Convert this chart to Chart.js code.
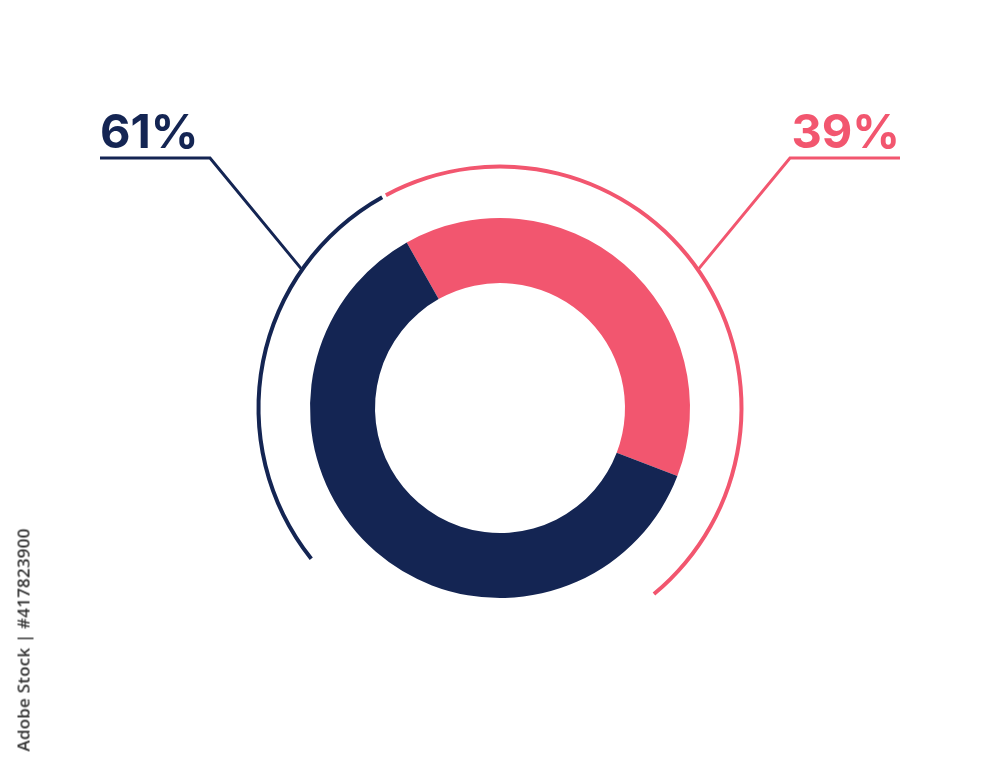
<!DOCTYPE html>
<html>
<head>
<meta charset="utf-8">
<script src="https://cdn.jsdelivr.net/npm/chart.js@4.4.1/dist/chart.umd.min.js"></script>
<style>
  html, body { margin: 0; padding: 0; background: #fff; }
  #wrap { position: relative; width: 1000px; height: 767px; }
  #stock {
    position: absolute; left: 23px; top: 640px;
    transform: translate(-50%, -50%) rotate(-90deg);
    white-space: nowrap; font-family: "Open Sans", sans-serif; font-size: 17px;
    font-weight: 600; color: #333; letter-spacing: 0.2px;
  }
</style>
</head>
<body>
<div id="wrap">
  <canvas id="pie" width="1000" height="767"></canvas>
  <div id="stock">Adobe Stock | #417823900</div>
</div>
<script>
// donut values (pink slice first, it starts at the rotation)
const sliceLabels = ['39%', '61%'];
const sliceValues = [39, 61];
const sliceColors = ['#F2566F', '#142553'];

// thin outer arcs, in degrees: pink arc, gap, navy arc, gap
const arcSpans = [168.6, 91, 99.4, 1];
const arcColors = ['#F2566F', 'rgba(0,0,0,0)', '#142553', 'rgba(0,0,0,0)'];

// leader label plugin
const leaderLabels = {
    id: 'leaderLabels',
    afterDatasetsDraw(chart) {
        const donut = chart.getDatasetMeta(2).data[0];
        const ring = chart.getDatasetMeta(0).data[0];
        const cx = donut.x, cy = donut.y;
        const r = ring.outerRadius - 1;
        const ctx = chart.ctx;
        ctx.save();
        ctx.lineWidth = 3;
        ctx.font = '700 47px Inter, "Noto Sans", sans-serif';
        ctx.textBaseline = 'alphabetic';

        // navy (61%) on the left, pink (39%) on the right
        [{ side: -1, idx: 1 }, { side: 1, idx: 0 }].forEach(o => {
            const ang = 55 * Math.PI / 180;
            const ex = cx + o.side * r * Math.sin(ang);
            const ey = cy - r * Math.cos(ang);
            const elbowX = cx + o.side * 290, elbowY = cy - 250;
            const farX = cx + o.side * 400;
            ctx.strokeStyle = sliceColors[o.idx];
            ctx.beginPath();
            ctx.moveTo(ex, ey);
            ctx.lineTo(elbowX, elbowY);
            ctx.lineTo(farX, elbowY);
            ctx.stroke();

            ctx.fillStyle = sliceColors[o.idx];
            ctx.textAlign = o.side < 0 ? 'left' : 'right';
            ctx.fillText(sliceLabels[o.idx], farX, cy - 260);
        });
        ctx.restore();
    }
};

new Chart(document.getElementById('pie'), {
    type: 'doughnut',
    data: {
        labels: sliceLabels,
        datasets: [
            { data: arcSpans, backgroundColor: arcColors, borderWidth: 0, weight: 4, rotation: -28.2, hoverOffset: 0 },
            { data: [1], backgroundColor: ['rgba(0,0,0,0)'], borderWidth: 0, weight: 49.5, hoverOffset: 0 },
            { data: sliceValues, backgroundColor: sliceColors, borderWidth: 0, weight: 65, rotation: -29.4, hoverOffset: 0 }
        ]
    },
    options: {
        responsive: false,
        animation: false,
        radius: 243.5,
        cutout: '51.33%',
        layout: { padding: { top: 49 } },
        plugins: {
            legend: { display: false },
            tooltip: { enabled: false }
        }
    },
    plugins: [leaderLabels]
});
</script>
</body>
</html>
